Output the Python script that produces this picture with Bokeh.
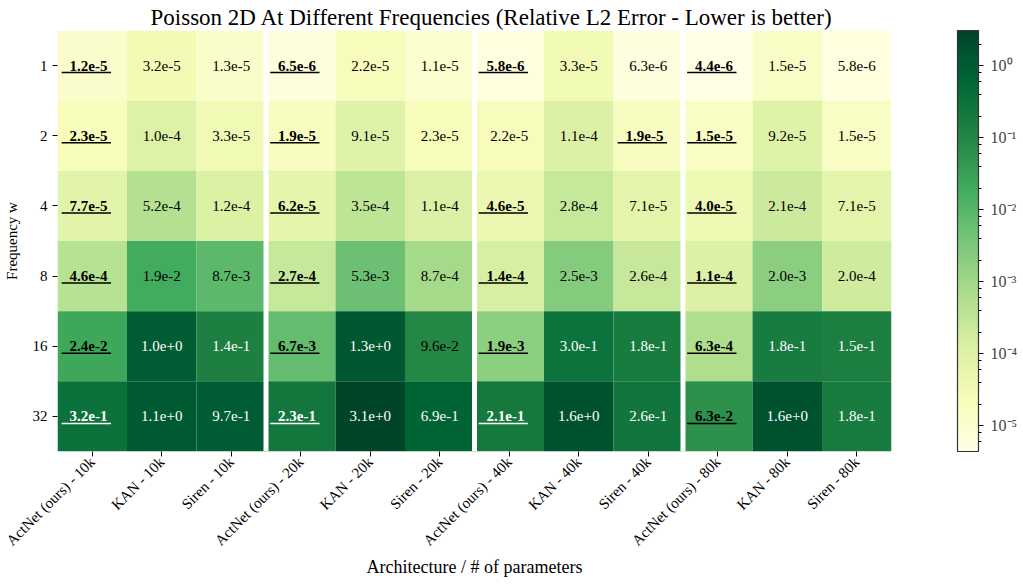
import math
import numpy as np
from bokeh.plotting import figure
from bokeh.models import (ColumnDataSource, LogColorMapper, ColorBar, LogTicker,
                          CustomJSTickFormatter, Span, FactorRange)
from bokeh.transform import dodge
from bokeh.palettes import YlGn9
from bokeh.embed import file_html
from bokeh.resources import INLINE

# ---------------- data ----------------
models = ["ActNet (ours)", "KAN", "Siren"]
sizes = ["10k", "20k", "40k", "80k"]
architectures = [f"{m} - {s}" for s in sizes for m in models]
frequencies = ["1", "2", "4", "8", "16", "32"]

err_w1 = [1.2e-5, 3.2e-5, 1.3e-5, 6.5e-6, 2.2e-5, 1.1e-5, 5.8e-6, 3.3e-5, 6.3e-6, 4.4e-6, 1.5e-5, 5.8e-6]
err_w2 = [2.3e-5, 1.0e-4, 3.3e-5, 1.9e-5, 9.1e-5, 2.3e-5, 2.2e-5, 1.1e-4, 1.9e-5, 1.5e-5, 9.2e-5, 1.5e-5]
err_w4 = [7.7e-5, 5.2e-4, 1.2e-4, 6.2e-5, 3.5e-4, 1.1e-4, 4.6e-5, 2.8e-4, 7.1e-5, 4.0e-5, 2.1e-4, 7.1e-5]
err_w8 = [4.6e-4, 1.9e-2, 8.7e-3, 2.7e-4, 5.3e-3, 8.7e-4, 1.4e-4, 2.5e-3, 2.6e-4, 1.1e-4, 2.0e-3, 2.0e-4]
err_w16 = [2.4e-2, 1.0e0, 1.4e-1, 6.7e-3, 1.3e0, 9.6e-2, 1.9e-3, 3.0e-1, 1.8e-1, 6.3e-4, 1.8e-1, 1.5e-1]
err_w32 = [3.2e-1, 1.1e0, 9.7e-1, 2.3e-1, 3.1e0, 6.9e-1, 2.1e-1, 1.6e0, 2.6e-1, 6.3e-2, 1.6e0, 1.8e-1]
errors = [err_w1, err_w2, err_w4, err_w8, err_w16, err_w32]

# ---------------- helpers ----------------
def fmt(v):
    mant, ex = f"{v:.1e}".split("e")
    return f"{mant}e{ex[0]}{int(ex[1:])}"

anchors = np.array([0.0, 0.125, 0.25, 0.375, 0.5, 0.625, 0.75, 0.875, 1.0])
base = list(reversed(YlGn9))
rgb = np.array([[int(c[i:i + 2], 16) for i in (1, 3, 5)] for c in base], dtype=float)
t = np.linspace(0, 1, 256)
palette = ["#%02x%02x%02x" % tuple(int(round(np.interp(tt, anchors, rgb[:, k]))) for k in range(3)) for tt in t]

all_vals = [v for row in errors for v in row]
vmin, vmax = min(all_vals), max(all_vals)
mapper = LogColorMapper(palette=palette, low=vmin, high=vmax)

xs, ys, vals, labels, tcolors, styles = [], [], [], [], [], []
bx, by, bcol = [], [], []
ng = len(models)
for fi, f in enumerate(frequencies):
    row = errors[fi]
    for g in range(len(sizes)):
        grp = row[g * ng:(g + 1) * ng]
        best = int(np.argmin(grp))
        for k in range(ng):
            j = g * ng + k
            v = row[j]
            c = "white" if v > 0.1 else "black"
            xs.append(architectures[j]); ys.append(f); vals.append(v)
            labels.append(fmt(v)); tcolors.append(c)
            if k == best:
                styles.append("bold")
                bx.append(architectures[j]); by.append(f); bcol.append(c)
            else:
                styles.append("normal")

src = ColumnDataSource(dict(x=xs, y=ys, v=vals))
nsrc = ColumnDataSource(dict(x=[x for x, s in zip(xs, styles) if s == "normal"],
                             y=[y for y, s in zip(ys, styles) if s == "normal"],
                             label=[l for l, s in zip(labels, styles) if s == "normal"],
                             tc=[c for c, s in zip(tcolors, styles) if s == "normal"]))
bsrc = ColumnDataSource(dict(x=bx, y=by, tc=bcol,
                             label=[l for l, s in zip(labels, styles) if s == "bold"]))

FONT = "Liberation Serif"

p = figure(width=1020, height=582,
           x_range=FactorRange(*architectures),
           y_range=FactorRange(*reversed(frequencies)),
           output_backend="svg", toolbar_location=None,
           min_border_left=57, min_border_right=127,
           min_border_top=30, min_border_bottom=131,
           title="Poisson 2D At Different Frequencies (Relative L2 Error - Lower is better)")

p.rect(x="x", y="y", width=1, height=1, source=src,
       fill_color={"field": "v", "transform": mapper}, line_color=None)

for g in range(1, len(sizes)):
    p.add_layout(Span(location=g * ng, dimension="height", line_color="white", line_width=5))

p.text(x="x", y="y", text="label", source=nsrc, text_color="tc",
       text_align="center", text_baseline="middle", text_font_size="15px", text_font=FONT)
p.text(x=dodge("x", -0.055, range=p.x_range), y="y", text="label", source=bsrc, text_color="tc",
       text_align="center", text_baseline="middle", text_font_size="15px", text_font=FONT,
       text_font_style="bold")
p.segment(x0=dodge("x", -0.44, range=p.x_range), y0=dodge("y", -0.1, range=p.y_range),
          x1=dodge("x", 0.27, range=p.x_range), y1=dodge("y", -0.1, range=p.y_range),
          source=bsrc, line_color="tc", line_width=1.5)

p.grid.grid_line_color = None
p.outline_line_color = None
p.background_fill_color = "white"
for ax in (p.xaxis[0], p.yaxis[0]):
    ax.axis_line_color = None
    ax.major_tick_in = 0
    ax.major_tick_out = 5
    ax.major_tick_line_color = "black"
    ax.minor_tick_line_color = None
    ax.major_label_text_font = FONT
    ax.major_label_text_font_size = "15px"
    ax.major_label_text_color = "black"
    ax.axis_label_text_font = FONT
    ax.axis_label_text_font_style = "normal"
    ax.axis_label_text_color = "black"
p.xaxis.major_label_orientation = math.pi / 4
p.xaxis.major_label_standoff = 3
p.xaxis.axis_label = "Architecture / # of parameters"
p.xaxis.axis_label_text_font_size = "18px"
p.xaxis.axis_label_standoff = 0
p.yaxis.axis_label = "Frequency w"
p.yaxis.axis_label_text_font_size = "15px"
p.yaxis.axis_label_standoff = 10

p.title.text_font = FONT
p.title.text_font_size = "23px"
p.title.text_font_style = "normal"
p.title.text_color = "black"
p.title.align = "left"
p.title.offset = 93
p.title.standoff = 1

sup_js = """
const sup = {"0":"\u2070","1":"\u00b9","2":"\u00b2","3":"\u00b3","4":"\u2074","5":"\u2075",
             "6":"\u2076","7":"\u2077","8":"\u2078","9":"\u2079","-":"\u207b"};
const e = Math.round(Math.log10(tick));
return "10" + String(e).split("").map(c => sup[c]).join("");
"""
cb = ColorBar(color_mapper=mapper, ticker=LogTicker(), formatter=CustomJSTickFormatter(code=sup_js),
              width=21, padding=0, margin=0, location=(66, 0),
              bar_line_color="#333333", bar_line_width=1.2,
              major_tick_in=0, major_tick_out=5, minor_tick_in=0, minor_tick_out=3,
              major_tick_line_color="black", minor_tick_line_color="black",
              label_standoff=7, major_label_text_font=FONT, major_label_text_font_size="16px",
              background_fill_color=None)
p.add_layout(cb, "right")

open("out.html", "w").write(file_html(p, INLINE))
